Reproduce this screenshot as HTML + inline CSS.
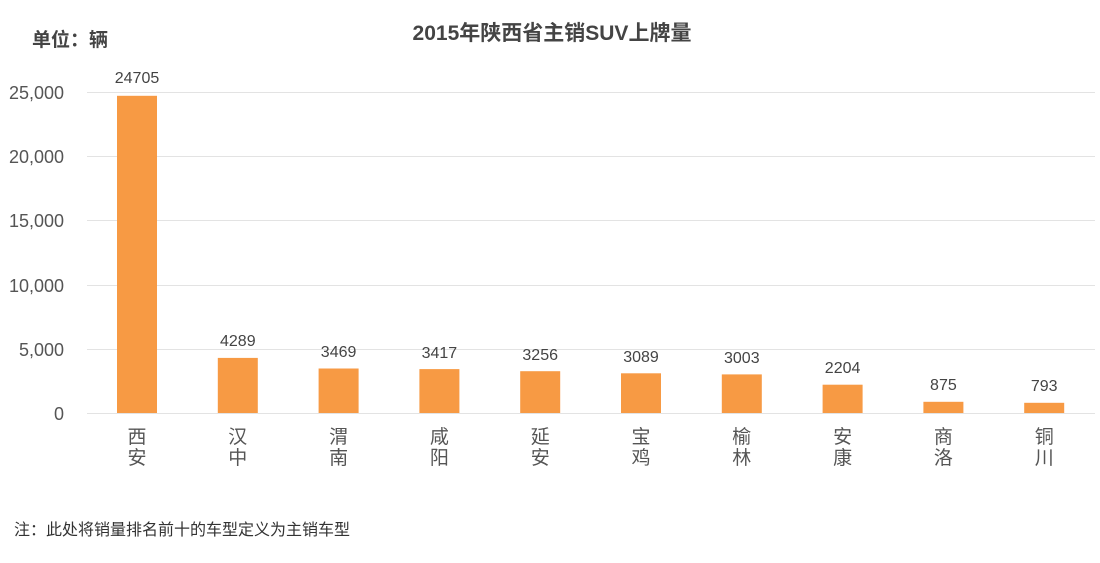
<!DOCTYPE html><html><head><meta charset="utf-8"><style>body{margin:0;background:#fff}svg text{font-family:"Liberation Sans","Noto Sans CJK SC",sans-serif}</style></head><body>
<svg width="1100" height="558" xmlns="http://www.w3.org/2000/svg">
<rect width="1100" height="558" fill="#fff"/>
<text x="32" y="46" font-size="19" font-weight="bold" fill="#444">单位：辆</text>
<text x="552" y="40" font-size="21" font-weight="bold" fill="#444" text-anchor="middle">2015年陕西省主销SUV上牌量</text>
<g stroke="#e3e3e3" stroke-width="1">
<line x1="87" x2="1095" y1="92.5" y2="92.5"/><line x1="87" x2="1095" y1="156.5" y2="156.5"/><line x1="87" x2="1095" y1="220.5" y2="220.5"/><line x1="87" x2="1095" y1="285.5" y2="285.5"/><line x1="87" x2="1095" y1="349.5" y2="349.5"/><line x1="87" x2="1095" y1="413.5" y2="413.5"/>
</g>
<g font-size="18" fill="#555" text-anchor="end">
<text x="64" y="99">25,000</text><text x="64" y="163">20,000</text><text x="64" y="227">15,000</text><text x="64" y="292">10,000</text><text x="64" y="356">5,000</text><text x="64" y="420">0</text>
</g>
<g fill="#f79a44">
<rect x="117" y="95.8" width="40" height="317.2"/>
<rect x="217.8" y="357.9" width="40" height="55.1"/>
<rect x="318.6" y="368.5" width="40" height="44.5"/>
<rect x="419.4" y="369.1" width="40" height="43.9"/>
<rect x="520.2" y="371.2" width="40" height="41.8"/>
<rect x="621" y="373.3" width="40" height="39.7"/>
<rect x="721.8" y="374.4" width="40" height="38.6"/>
<rect x="822.6" y="384.7" width="40" height="28.3"/>
<rect x="923.4" y="401.8" width="40" height="11.2"/>
<rect x="1024.2" y="402.8" width="40" height="10.2"/>
</g>
<g font-size="16" fill="#444" text-anchor="middle">
<text x="137" y="83">24705</text>
<text x="237.8" y="346">4289</text>
<text x="338.6" y="357">3469</text>
<text x="439.4" y="358">3417</text>
<text x="540.2" y="360">3256</text>
<text x="641" y="362">3089</text>
<text x="741.8" y="363">3003</text>
<text x="842.6" y="373">2204</text>
<text x="943.4" y="390">875</text>
<text x="1044.2" y="391">793</text>
</g>
<g font-size="19" fill="#555" text-anchor="middle">
<text x="137" y="443">西</text><text x="137" y="464">安</text>
<text x="237.8" y="443">汉</text><text x="237.8" y="464">中</text>
<text x="338.6" y="443">渭</text><text x="338.6" y="464">南</text>
<text x="439.4" y="443">咸</text><text x="439.4" y="464">阳</text>
<text x="540.2" y="443">延</text><text x="540.2" y="464">安</text>
<text x="641" y="443">宝</text><text x="641" y="464">鸡</text>
<text x="741.8" y="443">榆</text><text x="741.8" y="464">林</text>
<text x="842.6" y="443">安</text><text x="842.6" y="464">康</text>
<text x="943.4" y="443">商</text><text x="943.4" y="464">洛</text>
<text x="1044.2" y="443">铜</text><text x="1044.2" y="464">川</text>
</g>
<text x="14" y="535" font-size="16" fill="#333">注：此处将销量排名前十的车型定义为主销车型</text>
</svg></body></html>
